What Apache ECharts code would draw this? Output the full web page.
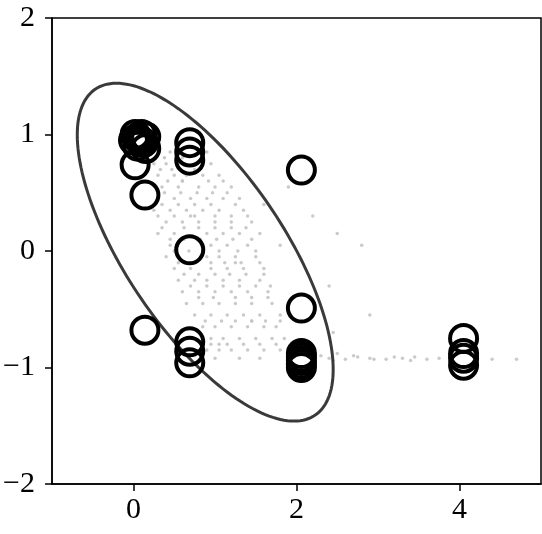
<!DOCTYPE html>
<html>
<head>
<meta charset="utf-8">
<script src="https://cdn.jsdelivr.net/npm/echarts@6/dist/echarts.min.js"></script>
<style>html,body{margin:0;padding:0;background:#fff}#c{width:542px;height:534px}</style>
</head>
<body>
<div id="c"></div>
<script>
// x tick values and y tick values
var xTicks = [0, 2, 4];
var yTicks = [-2, -1, 0, 1, 2];

// Observed points (hollow circles)
var circleX = [0.02, 0.05, 0.10, 0.15, 0.12, 0.05, 0.15, 0.08, 0.00, 0.02, 0.14,
               0.69, 0.69, 0.69, 0.69, 2.06,
               0.14, 0.69, 0.69, 0.69,
               2.06, 2.06, 2.06, 2.06, 2.06, 2.06,
               4.05, 4.05, 4.05, 4.05];
var circleY = [1.00, 0.97, 1.00, 0.98, 0.93, 0.90, 0.88, 0.95, 0.95, 0.74, 0.48,
               0.93, 0.85, 0.78, 0.01, 0.695,
               -0.68, -0.78, -0.86, -0.96,
               -0.49, -0.88, -0.91, -0.94, -0.97, -1.00,
               -0.75, -0.88, -0.92, -0.98];

// Simulated cloud (light grey dots)
var cloudX = [0.3,0.45,0.9, 0.25,0.4,0.55,0.95, 0.3,0.5,0.65,0.85,1.05, 0.35,0.55,0.8,1.0,1.2,
  0.3,0.5,0.7,0.9,1.1,1.3, 0.25,0.45,0.65,0.85,1.05,1.35, 0.4,0.6,0.8,1.0,1.2,1.45,
  0.3,0.5,0.9,1.1,1.3,1.55, 0.45,0.95,1.15,1.4, 0.4,0.55,0.9,1.05,1.25,1.5,
  0.5,0.7,0.95,1.15,1.35,1.6, 0.55,0.75,0.9,1.1,1.3,1.55, 0.6,0.8,1.0,1.2,1.4,1.65,
  0.65,0.85,1.05,1.25,1.45,1.7, 0.75,0.95,1.15,1.35,1.55,1.8, 0.85,1.0,1.2,1.4,1.6,1.75,
  0.95,1.1,1.3,1.5,1.7,1.85, 0.9,1.05,1.2,1.4,1.6,1.8,2.3,2.5,
  1.0,1.3,1.55,2.4,2.6,2.75,2.9,3.1,3.3,3.45,3.6,3.75,4.7,
  2.2,2.5,2.8,2.4,2.9,2.45,1.8,1.6,1.9,0.6,0.75,1.25,1.45,1.05,
  0.38,0.6,0.33,0.47,0.75,0.42,0.6,0.92,1.1,0.38,0.58,0.78,0.97,1.15,0.35,0.55,0.75,0.95,1.25,
  0.3,0.5,0.7,1.0,1.2,1.4,0.35,0.62,0.8,1.0,1.2,1.38,0.45,0.62,0.82,1.02,1.22,1.45,
  0.5,0.68,0.85,1.05,1.28,1.5,0.55,0.72,0.95,1.12,1.32,1.55,0.62,0.8,1.0,1.18,1.38,1.6,
  0.7,0.9,1.1,1.3,1.5,1.68,0.8,0.98,1.25,1.45,1.65,0.88,1.08,1.25,1.45,1.62,1.8,
  0.95,1.15,1.35,1.55,1.75,2.15,2.2,2.45,2.7,2.95,3.2,3.4,3.9,4.4];
var cloudY = [0.85,0.85,0.85, 0.75,0.75,0.75,0.75, 0.65,0.65,0.65,0.65,0.65, 0.55,0.55,0.55,0.55,0.55,
  0.45,0.45,0.45,0.45,0.45,0.45, 0.35,0.35,0.35,0.35,0.35,0.35, 0.25,0.25,0.25,0.25,0.25,0.25,
  0.15,0.15,0.15,0.15,0.15,0.15, 0.05,0.05,0.05,0.05, -0.05,-0.05,-0.05,-0.05,-0.05,-0.05,
  -0.15,-0.15,-0.15,-0.15,-0.15,-0.15, -0.25,-0.25,-0.25,-0.25,-0.25,-0.25, -0.35,-0.35,-0.35,-0.35,-0.35,-0.35,
  -0.45,-0.45,-0.45,-0.45,-0.45,-0.45, -0.55,-0.55,-0.55,-0.55,-0.55,-0.55, -0.65,-0.65,-0.65,-0.65,-0.65,-0.65,
  -0.75,-0.75,-0.75,-0.75,-0.75,-0.75, -0.85,-0.85,-0.85,-0.85,-0.85,-0.85,-0.9,-0.88,
  -0.92,-0.92,-0.92,-0.92,-0.93,-0.91,-0.92,-0.93,-0.92,-0.91,-0.93,-0.92,-0.93,
  0.3,0.15,0.05,-0.3,-0.55,-0.7,0.05,0.4,0.55,0.6,0.3,-0.1,-0.6,-0.8,
  0.8,0.8,0.7,0.7,0.7,0.6,0.6,0.6,0.6,0.5,0.5,0.5,0.5,0.5,0.4,0.4,0.4,0.4,0.4,
  0.3,0.3,0.3,0.3,0.3,0.3,0.2,0.2,0.2,0.2,0.2,0.2,0.1,0.1,0.1,0.1,0.1,0.1,
  0.0,0.0,0.0,0.0,0.0,0.0,-0.1,-0.1,-0.1,-0.1,-0.1,-0.1,-0.2,-0.2,-0.2,-0.2,-0.2,-0.2,
  -0.3,-0.3,-0.3,-0.3,-0.3,-0.3,-0.4,-0.4,-0.4,-0.4,-0.4,-0.6,-0.6,-0.6,-0.6,-0.6,-0.6,
  -0.8,-0.8,-0.8,-0.8,-0.8,-0.9,-0.95,-0.94,-0.9,-0.93,-0.91,-0.94,-0.92,-0.93];

// Ellipse: centre and two conjugate semi-diameters (data units)
var ellipseCenter = [0.88, -0.01];
var ellipseP = [-1.09, 1.45];
var ellipseQ = [1.13, 0.0];

var circleData = circleX.map(function (x, i) { return [x, circleY[i]]; });
var cloudData = cloudX.map(function (x, i) { return [x, cloudY[i]]; });

function fmt(v) { return String(v).replace('-', '\u2212'); }

var chart = echarts.init(document.getElementById('c'), null, {renderer: 'canvas'});
chart.setOption({
  animation: false,
  backgroundColor: '#fff',
  grid: {left: 52, right: 1, top: 18, bottom: 50, show: true, borderColor: '#000', borderWidth: 1.5, containLabel: false},
  xAxis: {
    type: 'value', min: -1, max: 5,
    splitLine: {show: false},
    axisLine: {show: true, onZero: false, lineStyle: {color: '#000', width: 1.5}},
    axisTick: {show: true, length: 7, lineStyle: {color: '#000', width: 1.5}, customValues: xTicks},
    axisLabel: {customValues: xTicks, formatter: fmt, color: '#000', fontFamily: 'Liberation Serif', fontSize: 30, margin: 11}
  },
  yAxis: {
    type: 'value', min: -2, max: 2, interval: 1,
    splitLine: {show: false},
    axisLine: {show: true, onZero: false, lineStyle: {color: '#000', width: 1.5}},
    axisTick: {show: true, length: 7, lineStyle: {color: '#000', width: 1.5}, customValues: yTicks},
    axisLabel: {customValues: yTicks, formatter: fmt, color: '#000', fontFamily: 'Liberation Serif', fontSize: 30, margin: 17}
  },
  series: [
    {
      type: 'scatter', data: cloudData, symbol: 'circle', symbolSize: 3.5,
      itemStyle: {color: '#c4c4c4', opacity: 0.9}, silent: true, z: 1
    },
    {
      type: 'custom', coordinateSystem: 'cartesian2d', data: [ellipseCenter], z: 2, silent: true,
      renderItem: function (params, api) {
        var pts = [];
        for (var i = 0; i <= 180; i++) {
          var t = i / 180 * Math.PI * 2;
          var x = ellipseCenter[0] + ellipseP[0] * Math.cos(t) + ellipseQ[0] * Math.sin(t);
          var y = ellipseCenter[1] + ellipseP[1] * Math.cos(t) + ellipseQ[1] * Math.sin(t);
          pts.push(api.coord([x, y]));
        }
        return {type: 'polyline', shape: {points: pts}, style: {stroke: '#3a3a3a', lineWidth: 3, fill: null}};
      }
    },
    {
      type: 'scatter', data: circleData, symbol: 'circle', symbolSize: 27, z: 3,
      itemStyle: {color: 'rgba(0,0,0,0)', borderColor: '#000', borderWidth: 4, opacity: 1}
    }
  ]
});
</script>
</body>
</html>
